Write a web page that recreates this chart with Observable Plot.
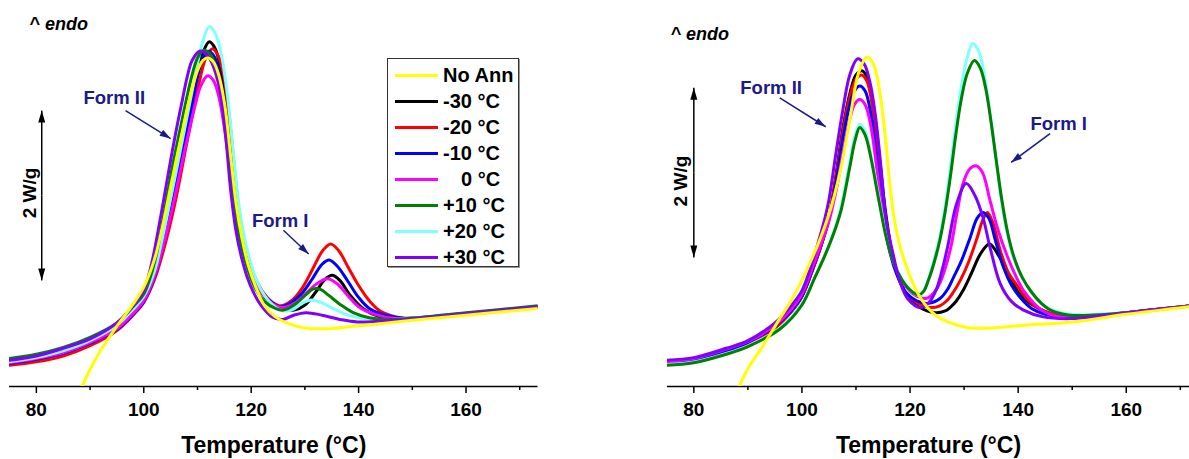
<!DOCTYPE html>
<html><head><meta charset="utf-8">
<script src="https://cdn.jsdelivr.net/npm/d3@7"></script>
<script src="https://cdn.jsdelivr.net/npm/@observablehq/plot@0.6"></script>
<style>
html,body{margin:0;padding:0;background:#fff;}
#wrap{position:relative;width:1189px;height:459px;overflow:hidden;font-family:"Liberation Sans",Arial,sans-serif;}
#left{position:absolute;left:0;top:0;}
#right{position:absolute;left:594px;top:0;}
#legend{position:absolute;left:387px;top:58px;width:132px;height:209px;border:1px solid #333;box-shadow:1px 1px 0 #999;background:#fff;box-sizing:border-box;}
.row{position:absolute;left:0;height:26px;display:flex;align-items:center;}
.sw{width:43px;height:3px;margin-left:7px;margin-right:5px;}
.lab{font-weight:bold;font-size:20px;white-space:pre;color:#000;}
</style></head><body>
<div id="wrap"><div id="left"></div><div id="right"></div><div id="legend"></div></div>
<script>
// ---------- series ----------
const seriesNames = ["No Ann","-30 °C","-20 °C","-10 °C","0 °C","+10 °C","+20 °C","+30 °C"];
const seriesColors = ["#ffff00","#000000","#ff0000","#0000ff","#ff00ff","#008000","#80ffff","#8000ff"];
const drawOrder = ["-30 °C","-20 °C","-10 °C","0 °C","+20 °C","+10 °C","+30 °C","No Ann"];

// x ticks
const majorTicks = [80,100,120,140,160];
const minorTicks = [90,110,130,150,170];

// ---- left panel: [temperature °C, heat flow W/g] ----
const L_noAnn = [[84,-0.62],[88.5,0],[90,0.2],[92,0.43],[95,0.71],[98,0.97],[100,1.17],[102,1.5],[103.4,1.86],[104.8,2.29],[106,2.66],[107,2.95],[108,3.25],[109,3.51],[110,3.72],[111,3.84],[112,3.87],[113,3.82],[114,3.66],[115.1,3.31],[116.2,2.7],[117.2,2.15],[118.3,1.74],[119.5,1.42],[121,1.15],[122.5,0.95],[124.5,0.82],[127,0.74],[130,0.69],[134,0.68],[139,0.71],[144,0.74],[150,0.78],[160,0.84],[173.4,0.92]];
const L_m30 = [[75,0.27],[80,0.32],[85,0.39],[90,0.51],[95,0.68],[98,0.86],[100,1.01],[102,1.31],[103.5,1.64],[105,2.05],[106.4,2.51],[107.3,2.81],[108.2,3.1],[109.2,3.42],[110.1,3.72],[111,3.93],[112.2,4.06],[113.3,3.98],[114.3,3.74],[115.4,3.31],[116.5,2.68],[117.5,2.1],[118.5,1.7],[119.8,1.42],[121,1.22],[123,1.02],[125.5,0.92],[128,0.9],[130,0.96],[132,1.11],[133.7,1.26],[135.1,1.31],[136.5,1.25],[138.5,1.07],[141,0.91],[144,0.82],[148,0.8],[160,0.86],[173.4,0.94]];
const L_m20 = [[75,0.25],[80,0.29],[85,0.36],[90,0.48],[95,0.66],[98,0.84],[100,0.99],[102,1.26],[104,1.68],[105.5,2.07],[106.9,2.5],[107.8,2.8],[108.7,3.08],[109.7,3.39],[110.6,3.66],[111.5,3.86],[112.8,3.98],[113.9,3.89],[114.9,3.66],[115.9,3.19],[116.9,2.55],[117.9,1.98],[119,1.6],[120.2,1.36],[122,1.13],[124,0.99],[125.5,0.95],[127.5,1.01],[129.5,1.16],[131.5,1.39],[133.3,1.6],[134.8,1.68],[136.3,1.6],[138.1,1.4],[140,1.19],[142,1.01],[144,0.89],[147,0.82],[150,0.8],[160,0.86],[173.4,0.94]];
const L_m10 = [[75,0.27],[80,0.32],[85,0.39],[90,0.51],[95,0.67],[98,0.85],[100,1.0],[102,1.29],[103.7,1.68],[105.1,2.06],[106.4,2.48],[107.3,2.79],[108.2,3.08],[109.2,3.39],[110.1,3.67],[111,3.87],[112,3.95],[113.1,3.89],[114.1,3.68],[115.2,3.2],[116.3,2.55],[117.4,2.0],[118.6,1.62],[119.9,1.38],[121.8,1.13],[123.8,0.99],[125.5,0.94],[127.5,0.99],[129.5,1.1],[131.5,1.28],[133.2,1.44],[134.5,1.49],[136,1.42],[138,1.24],[140,1.05],[142,0.92],[145,0.84],[149,0.8],[160,0.86],[173.4,0.94]];
const L_z0 = [[75,0.28],[80,0.33],[85,0.4],[90,0.52],[95,0.68],[98,0.86],[100,1.01],[102,1.3],[103.8,1.7],[105.2,2.07],[106.6,2.48],[107.6,2.78],[108.6,3.06],[109.6,3.32],[110.6,3.54],[111.9,3.66],[113,3.6],[114,3.41],[115.1,3.01],[116.2,2.45],[117.3,1.95],[118.5,1.6],[119.8,1.36],[121.8,1.12],[123.8,0.98],[125.8,0.93],[127.8,0.97],[129.8,1.07],[132,1.2],[134.2,1.27],[136,1.21],[138,1.07],[140,0.94],[143,0.85],[147,0.8],[160,0.86],[173.4,0.94]];
const L_p10 = [[75,0.33],[80,0.38],[85,0.46],[90,0.58],[95,0.75],[98,0.94],[100,1.09],[102,1.46],[103.6,1.98],[105,2.48],[106,2.8],[107,3.1],[108,3.4],[109,3.67],[110,3.87],[111.2,3.96],[112.3,3.92],[113.3,3.79],[114.6,3.46],[115.8,2.89],[116.8,2.25],[117.8,1.78],[118.8,1.5],[119.8,1.3],[121,1.13],[122.5,1.0],[124.5,0.92],[126,0.9],[128,0.96],[130,1.07],[131.6,1.15],[133,1.14],[134.5,1.07],[136.5,0.97],[139,0.87],[142,0.81],[146.5,0.79],[160,0.87],[173.4,0.95]];
const L_p20 = [[75,0.29],[80,0.34],[85,0.42],[90,0.54],[95,0.72],[98,0.91],[100,1.06],[102,1.36],[103.5,1.76],[104.8,2.15],[106,2.52],[107,2.84],[108,3.16],[109,3.48],[110,3.8],[111,4.07],[112.2,4.24],[113.4,4.15],[114.5,3.89],[115.6,3.42],[116.6,2.8],[117.6,2.2],[118.6,1.8],[119.7,1.5],[121,1.25],[122.5,1.07],[124,0.96],[125.5,0.9],[127.5,0.9],[129.5,0.98],[131.1,1.02],[133,0.99],[135.5,0.91],[138,0.84],[141,0.8],[146,0.79],[160,0.86],[173.4,0.94]];
const L_p30 = [[75,0.31],[80,0.36],[85,0.45],[90,0.56],[95,0.75],[98,0.95],[100,1.13],[101.5,1.46],[103,1.95],[104.4,2.45],[105.3,2.77],[106.2,3.07],[107.2,3.38],[108.1,3.65],[109,3.84],[110.4,3.95],[111.6,3.92],[112.7,3.81],[114,3.54],[115.2,2.98],[116.2,2.3],[117.2,1.82],[118.2,1.52],[119.2,1.3],[120.5,1.1],[121.9,0.95],[123.9,0.82],[125.9,0.79],[127.9,0.84],[130.2,0.87],[133.2,0.84],[136.5,0.79],[139.8,0.76],[146.5,0.78],[160,0.86],[173.4,0.94]];

// ---- right panel ----
const R_noAnn = [[84,-0.62],[88.4,0],[90,0.21],[92.7,0.47],[95.9,0.8],[98,1.01],[100,1.25],[102,1.53],[103.5,1.76],[104.8,1.99],[106,2.25],[107.3,2.6],[108.9,3.16],[110.5,3.7],[112,3.88],[113.2,3.8],[114.3,3.51],[115.4,2.95],[116.3,2.36],[117.3,1.89],[118.8,1.51],[121.5,1.09],[124,0.88],[127,0.76],[131,0.69],[135,0.69],[141,0.72],[150,0.76],[160,0.85],[171.7,0.94]];
const R_m30 = [[75,0.27],[80,0.31],[86,0.41],[90,0.51],[95,0.69],[98,0.88],[100,1.06],[102,1.38],[103.5,1.65],[105,1.99],[106.3,2.49],[107.6,3.05],[108.9,3.46],[110,3.67],[111.1,3.72],[112.1,3.64],[113.2,3.31],[114.3,2.72],[115.4,2.09],[116.6,1.6],[118,1.27],[119.6,1.06],[121.6,0.94],[124.6,0.87],[126.5,0.89],[127.4,0.93],[128.6,1.01],[129.8,1.13],[131.4,1.34],[133,1.56],[134.7,1.68],[136.4,1.54],[138.5,1.28],[140.3,1.09],[142.2,0.98],[145.9,0.86],[150,0.81],[160,0.87],[171.7,0.95]];
const R_m20 = [[75,0.27],[80,0.31],[86,0.41],[90,0.51],[95,0.69],[98,0.88],[100,1.06],[102,1.38],[103.5,1.65],[105,1.98],[106.3,2.47],[107.6,3.01],[108.9,3.42],[110,3.62],[111,3.67],[112,3.6],[113.1,3.27],[114.2,2.68],[115.3,2.07],[116.5,1.6],[117.9,1.28],[119.5,1.08],[121.5,0.98],[123.7,0.93],[125.5,0.95],[126.8,1.01],[128,1.11],[129.3,1.25],[130.8,1.46],[132.4,1.75],[133.4,1.95],[134.3,2.05],[135.3,1.93],[136.7,1.6],[138.2,1.34],[139.8,1.19],[141.5,1.04],[143.5,0.93],[146,0.86],[150,0.81],[160,0.87],[171.7,0.95]];
const R_m10 = [[75,0.28],[80,0.32],[86,0.42],[90,0.52],[95,0.71],[98,0.89],[100,1.07],[102,1.39],[103.5,1.66],[105,1.97],[106.3,2.4],[107.5,2.89],[108.7,3.28],[109.7,3.48],[110.7,3.54],[111.7,3.48],[112.8,3.19],[113.9,2.64],[115,2.05],[116.2,1.6],[117.6,1.31],[119.2,1.11],[121.2,1.01],[123.4,0.98],[125.6,1.04],[127,1.15],[128,1.28],[129.5,1.48],[131.1,1.75],[132.4,1.98],[133.5,2.05],[134.6,1.98],[135.8,1.72],[137.2,1.42],[138.8,1.19],[140.5,1.04],[142.5,0.92],[145,0.85],[149,0.81],[160,0.87],[171.7,0.95]];
const R_z0 = [[75,0.29],[80,0.33],[86,0.44],[90,0.53],[95,0.72],[98,0.91],[100,1.09],[102,1.41],[103.5,1.67],[105,1.95],[106.3,2.3],[107.5,2.72],[108.7,3.11],[109.7,3.32],[110.7,3.38],[111.7,3.32],[112.8,3.05],[113.9,2.54],[115,2.01],[116.2,1.62],[117.6,1.36],[119,1.2],[120.8,1.08],[123.1,1.04],[124.5,1.11],[125.6,1.23],[127.4,1.6],[128.7,2.05],[129.8,2.39],[131,2.56],[132.2,2.6],[133.4,2.52],[134.8,2.19],[136.3,1.84],[137.9,1.55],[139.5,1.31],[141,1.13],[142.8,0.99],[144.6,0.89],[148,0.82],[160,0.87],[171.7,0.95]];
const R_p10 = [[75,0.25],[80,0.28],[86,0.38],[90,0.47],[96,0.68],[100,0.96],[102.3,1.27],[104.3,1.55],[106.3,1.88],[107.3,2.09],[108.9,2.6],[109.8,2.89],[110.7,3.05],[111.7,2.96],[112.8,2.68],[114,2.27],[115.4,1.81],[116.3,1.59],[117.7,1.35],[119.1,1.2],[120.5,1.11],[121.6,1.08],[122.5,1.12],[123.5,1.27],[124.5,1.47],[125.5,1.72],[126.5,2.06],[127.5,2.49],[128.5,2.98],[129.5,3.39],[130.6,3.69],[131.9,3.84],[133,3.75],[134,3.51],[135,3.11],[136,2.64],[137,2.19],[138.1,1.8],[139.3,1.51],[140.8,1.28],[142.5,1.11],[144.3,0.98],[146.3,0.89],[149.6,0.84],[160,0.87],[171.7,0.95]];
const R_p20 = [[75,0.26],[80,0.29],[86,0.39],[90,0.48],[96,0.69],[100,0.98],[102.3,1.28],[104.3,1.56],[106.3,1.9],[107.3,2.13],[108.9,2.66],[109.8,2.95],[110.7,3.09],[111.7,3.01],[112.8,2.72],[114,2.31],[115.4,1.84],[116.3,1.6],[117.7,1.36],[119.1,1.21],[120.5,1.11],[121.9,1.07],[122.5,1.12],[123.5,1.28],[124.5,1.51],[125.5,1.76],[126.5,2.13],[127.5,2.6],[128.5,3.11],[129.5,3.54],[130.5,3.86],[131.6,4.04],[132.7,3.95],[133.7,3.69],[134.7,3.27],[135.7,2.78],[136.7,2.28],[137.8,1.86],[139,1.54],[140.5,1.31],[142.2,1.13],[144,0.99],[146,0.91],[149.6,0.85],[160,0.87],[171.7,0.95]];
const R_p30 = [[75,0.31],[80,0.34],[86,0.45],[90,0.54],[95,0.75],[98,0.95],[100,1.13],[102,1.48],[103.2,1.74],[104.2,1.97],[105,2.2],[106.3,2.75],[107.6,3.27],[108.9,3.68],[110.3,3.86],[111.5,3.8],[112.6,3.58],[113.6,3.19],[114.6,2.6],[115.6,1.95],[116.9,1.55],[118.1,1.24],[119.6,1.03],[121.9,0.93],[123.5,0.99],[124.9,1.15],[126.8,1.6],[128.6,2.15],[130.4,2.39],[132,2.25],[133.5,1.99],[134.8,1.64],[136.7,1.21],[138.8,1.0],[141,0.9],[144.6,0.82],[150,0.8],[160,0.87],[171.7,0.95]];

// ---- annotations (data units: °C, W/g) ----
const L_endo = [{t: 78.7, v: 4.27, label: "^ endo"}];
const L_forms = [{t: 94.5, v: 3.4, label: "Form II"}, {t: 125.4, v: 1.95, label: "Form I"}];
const L_arrows = [{t1: 96.6, v1: 3.25, t2: 105.0, v2: 2.92}, {t1: 126.0, v1: 1.84, t2: 130.7, v2: 1.56}];
const L_bar = [{t: 81.0, v1: 2.25, v2: 3.25}, {t: 81.0, v1: 2.25, v2: 1.25}];
const L_barLabel = [{t: 78.8, v: 2.28, label: "2 W/g"}];

const R_endo = [{t: 75.7, v: 4.15, label: "^ endo"}];
const R_forms = [{t: 94.3, v: 3.52, label: "Form II"}, {t: 147.5, v: 3.09, label: "Form I"}];
const R_arrows = [{t1: 95.9, v1: 3.4, t2: 104.4, v2: 3.06}, {t1: 145.9, v1: 2.98, t2: 138.7, v2: 2.64}];
const R_bar = [{t: 80.0, v1: 2.52, v2: 3.52}, {t: 80.0, v1: 2.52, v2: 1.52}];
const R_barLabel = [{t: 77.7, v: 2.42, label: "2 W/g"}];

const xTitle = ["Temperature (°C)"];

const navy = "#1b1b87";

function head(len, half) {
  return (color, context) => {
    const doc = (context && context.document) ? context.document : document;
    const ns = "http://www.w3.org/2000/svg";
    const m = doc.createElementNS(ns, "marker");
    m.setAttribute("viewBox", `${-len} ${-half} ${len} ${2 * half}`);
    m.setAttribute("markerWidth", len);
    m.setAttribute("markerHeight", 2 * half);
    m.setAttribute("markerUnits", "userSpaceOnUse");
    m.setAttribute("orient", "auto");
    m.setAttribute("refX", 0);
    m.setAttribute("refY", 0);
    m.setAttribute("overflow", "visible");
    const p = doc.createElementNS(ns, "path");
    p.setAttribute("d", `M${-len},${-half}L0,0L${-len},${half}Z`);
    p.setAttribute("fill", color);
    p.setAttribute("stroke", "none");
    m.appendChild(p);
    return m;
  };
}

function makePanel(cfg, useCustom) {
  const rows = [];
  for (const name of drawOrder) for (const [t, v] of cfg.series[name]) rows.push({name, t, v});
  const barHead = useCustom ? head(12, 3.5) : "arrow";
  const formHead = useCustom ? head(11, 3.5) : "arrow";
  return Plot.plot({
    width: cfg.width, height: 459,
    marginLeft: cfg.ml, marginRight: cfg.mr, marginTop: 4, marginBottom: 73,
    x: {domain: cfg.domain},
    y: {domain: [0, 4.5], axis: null},
    color: {domain: seriesNames, range: seriesColors},
    style: {fontFamily: "'Liberation Sans', Arial, sans-serif", fontSize: "19px", fontWeight: "bold", color: "#000", background: "transparent", overflow: "visible"},
    marks: [
      Plot.ruleY([0], {stroke: "#000", strokeWidth: 1.5}),
      Plot.axisX(majorTicks, {tickSize: 7, tickPadding: 9, strokeWidth: 1.5, fontSize: 19, label: null}),
      Plot.axisX(minorTicks, {tickSize: 4, strokeWidth: 1.5, tickFormat: () => "", label: null}),
      Plot.text(xTitle, {text: d => d, frameAnchor: "bottom", dy: 66, fontSize: 23}),
      Plot.line(rows, {x: "t", y: "v", z: "name", stroke: "name", strokeWidth: 3, curve: "catmull-rom", clip: true}),
      Plot.text(cfg.endo, {x: "t", y: "v", text: "label", textAnchor: "start", fontStyle: "italic", fontSize: 18}),
      Plot.text(cfg.forms, {x: "t", y: "v", text: "label", fill: navy, fontSize: 18.5}),
      Plot.link(cfg.arrows, {x1: "t1", y1: "v1", x2: "t2", y2: "v2", stroke: navy, strokeWidth: 1.5, markerEnd: formHead}),
      Plot.link(cfg.bar, {x1: "t", y1: "v1", x2: "t", y2: "v2", stroke: "#000", strokeWidth: 1.5, markerEnd: barHead}),
      Plot.text(cfg.barLabel, {x: "t", y: "v", text: "label", rotate: -90, fontSize: 19})
    ]
  });
}

const leftCfg = {
  width: 594, ml: 9, mr: 56.5, domain: [75.0, 173.4],
  series: {"No Ann": L_noAnn, "-30 °C": L_m30, "-20 °C": L_m20, "-10 °C": L_m10, "0 °C": L_z0, "+10 °C": L_p10, "+20 °C": L_p20, "+30 °C": L_p30},
  endo: L_endo, forms: L_forms, arrows: L_arrows, bar: L_bar, barLabel: L_barLabel
};
const rightCfg = {
  width: 595, ml: 73, mr: 0, domain: [75.13, 171.7],
  series: {"No Ann": R_noAnn, "-30 °C": R_m30, "-20 °C": R_m20, "-10 °C": R_m10, "0 °C": R_z0, "+10 °C": R_p10, "+20 °C": R_p20, "+30 °C": R_p30},
  endo: R_endo, forms: R_forms, arrows: R_arrows, bar: R_bar, barLabel: R_barLabel
};

function build(cfg) {
  try { return makePanel(cfg, true); } catch (e) { return makePanel(cfg, false); }
}
document.getElementById("left").appendChild(build(leftCfg));
document.getElementById("right").appendChild(build(rightCfg));

// legend
const legend = document.getElementById("legend");
seriesNames.forEach((name, i) => {
  const row = document.createElement("div");
  row.className = "row";
  row.style.top = (3 + i * 26) + "px";
  const sw = document.createElement("div");
  sw.className = "sw";
  sw.style.background = seriesColors[i];
  const lab = document.createElement("span");
  lab.className = "lab";
  lab.textContent = name;
  if (name === "0 °C") lab.style.paddingLeft = "18px";
  row.appendChild(sw); row.appendChild(lab);
  legend.appendChild(row);
});
</script></body></html>
